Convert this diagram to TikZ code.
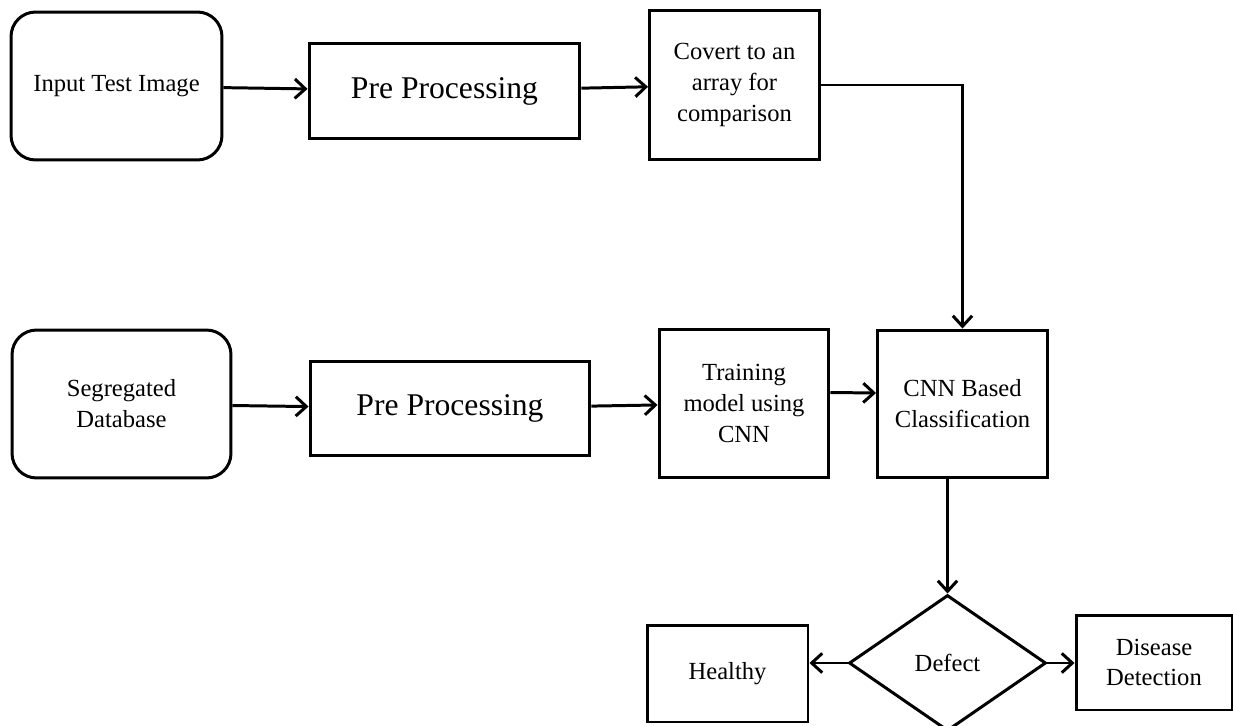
\documentclass[tikz,border=0pt]{standalone}
\usepackage{fontspec}
\setmainfont{Liberation Serif}
\usetikzlibrary{shapes.geometric,arrows.meta}

\begin{document}
\begin{tikzpicture}[x=0.02cm,y=-0.02cm,line width=1.7pt,
        >={Straight Barb[length=6pt,width=11pt]},
        box/.style={draw,rectangle,align=center,inner sep=0pt,font=\fontsize{14}{17.6}\selectfont},
        roundbox/.style={box,rounded corners=14pt,minimum height=2.96cm},
        bigbox/.style={box,minimum height=1.9cm,font=\fontsize{18}{21}\selectfont},
        sqbox/.style={box,minimum width=3.4cm,minimum height=2.96cm},
        decision/.style={draw,diamond,align=center,inner sep=0pt,minimum width=3.94cm,minimum height=2.72cm,font=\fontsize{14}{17.6}\selectfont}]
            \useasboundingbox (0,0) rectangle (1234,726);

            \node[roundbox,minimum width=4.22cm] (input) at (116.5,86) {Input Test Image};
            \node[bigbox,minimum width=5.42cm] (pre1) at (444.5,91) {Pre Processing};
            \node[sqbox,minimum height=3cm] (covert) at (734.5,85) {Covert to an\\array for\\comparison};

            \node[roundbox,minimum width=4.38cm] (seg) at (121.5,404) {Segregated\\Database};
            \node[bigbox,minimum width=5.6cm] (pre2) at (450,408.5) {Pre Processing};
            \node[sqbox] (train) at (744,403.5) {Training\\model using\\CNN};
            \node[sqbox] (cnn) at (962.5,404) {CNN Based\\Classification};

            \node[decision] (defect) at (947.5,663) {Defect};
            \node[box,minimum width=3.22cm,minimum height=1.94cm] (healthy) at (727.5,673.5) {Healthy};
            \node[box,minimum width=3.12cm,minimum height=1.9cm] (disease) at (1154,662.5) {Disease\\Detection};

            \draw[->] (input) -- (pre1);
            \draw[->] (pre1) -- (covert);
            \draw[->] (covert.east) -| (cnn.north);

            \draw[->] (seg) -- (pre2);
            \draw[->] (pre2) -- (train);
            \draw[->] ([yshift=0.22cm]train.east) -- ([yshift=0.22cm]cnn.west);

            \draw[->] (cnn.south -| defect.north) -- (defect.north);
            \draw[->] (defect.west) -- (healthy.east |- defect.west);
            \draw[->] (defect.east) -- (disease.west |- defect.east);
        \end{tikzpicture}
\end{document}
